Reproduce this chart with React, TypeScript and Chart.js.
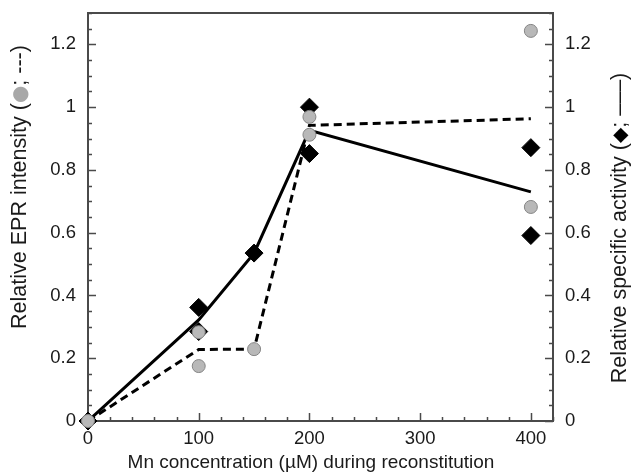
import React, { useEffect, useRef } from "react";
import { Chart, registerables } from "chart.js";

Chart.register(...registerables);

// ---- data ----
const X_TICKS = [0, 100, 200, 300, 400];
const Y_TICKS = [0, 0.2, 0.4, 0.6, 0.8, 1, 1.2];
const X_MIN = 0;
const X_MAX = 420;
const Y_MIN = 0;
const Y_MAX = 1.3;
const X_MINOR_STEP = 20;
const Y_MINOR_STEP = 0.05;

const EPR_X = [0, 100, 100, 150, 200, 200, 400, 400];
const EPR_Y = [0, 0.283, 0.175, 0.229, 0.969, 0.912, 1.243, 0.682];
const ACT_X = [0, 100, 100, 150, 200, 200, 400, 400];
const ACT_Y = [0, 0.362, 0.285, 0.535, 1.0, 0.852, 0.871, 0.591];
const EPR_MEAN_X = [0, 100, 150, 200, 400];
const EPR_MEAN_Y = [0, 0.228, 0.229, 0.942, 0.963];
const ACT_MEAN_X = [0, 100, 150, 200, 400];
const ACT_MEAN_Y = [0, 0.322, 0.535, 0.926, 0.73];

const X_TITLE = "Mn concentration (µM) during reconstitution";
const Y_LEFT_TITLE = ["Relative EPR intensity (", "●", "; ---)"];
const Y_RIGHT_TITLE = ["Relative specific activity (", "◆", "; –––)"];

const FONT_FAMILY = "'Liberation Sans', Arial, sans-serif";
const TEXT_COLOR = "#1a1a1a";
const FRAME_COLOR = "#4a4a4a";
const CIRCLE_FILL = "#b8b8b8";
const CIRCLE_BORDER = "#858585";

const pts = (xs: number[], ys: number[]) => xs.map((x, i) => ({ x, y: ys[i] }));

const framePlugin = {
  id: "frameTicks",
  beforeDatasetsDraw(chart: any) {
    const { ctx, chartArea: a, scales } = chart;
    const x = scales.x;
    const y = scales.y;
    ctx.save();
    ctx.strokeStyle = FRAME_COLOR;
    ctx.lineWidth = 1.5;
    ctx.beginPath();
    for (let v = X_MIN; v <= X_MAX + 1e-9; v += X_MINOR_STEP) {
      const px = Math.round(x.getPixelForValue(v)) + 0.5;
      const major = X_TICKS.some((t) => Math.abs(t - v) < 1e-6);
      const len = major ? 8 : 4;
      ctx.moveTo(px, a.bottom);
      ctx.lineTo(px, a.bottom - len);
    }
    for (let i = 0; Y_MIN + i * Y_MINOR_STEP <= Y_MAX + 1e-9; i++) {
      const v = Y_MIN + i * Y_MINOR_STEP;
      const py = Math.round(y.getPixelForValue(v)) + 0.5;
      const major = Y_TICKS.some((t) => Math.abs(t - v) < 1e-6);
      const len = major ? 8 : 4;
      ctx.moveTo(a.left, py);
      ctx.lineTo(a.left + len, py);
      ctx.moveTo(a.right, py);
      ctx.lineTo(a.right - len, py);
    }
    ctx.stroke();
    ctx.lineWidth = 2;
    ctx.strokeRect(a.left, a.top, a.right - a.left, a.bottom - a.top);
    ctx.restore();
  },
  afterDraw(chart: any) {
    const { ctx } = chart;
    ctx.save();
    ctx.font = `19px ${FONT_FAMILY}`;
    ctx.fillStyle = TEXT_COLOR;
    ctx.textBaseline = "middle";
    ctx.textAlign = "center";
    ctx.fillText(X_TITLE, 311, 463);

    const drawRot = (segs: string[], cx: number, cy: number, symColor: string, symSize: number) => {
      ctx.save();
      ctx.translate(cx, cy);
      ctx.rotate(-Math.PI / 2);
      ctx.textAlign = "left";
      const fonts = segs.map((_, i) =>
        i === 1 ? `${symSize}px 'DejaVu Sans', ${FONT_FAMILY}` : `21.5px ${FONT_FAMILY}`
      );
      const widths = segs.map((s, i) => {
        ctx.font = fonts[i];
        return ctx.measureText(s).width;
      });
      const total = widths.reduce((p, c) => p + c, 0);
      let xx = -total / 2;
      segs.forEach((s, i) => {
        ctx.font = fonts[i];
        ctx.fillStyle = i === 1 ? symColor : TEXT_COLOR;
        ctx.fillText(s, xx, i === 1 ? 1 : 0);
        xx += widths[i];
      });
      ctx.restore();
    };
    drawRot(Y_LEFT_TITLE, 20, 187, "#a8a8a8", 20);
    drawRot(Y_RIGHT_TITLE, 620, 228, "#000000", 20);
    ctx.restore();
  },
};

export default function App() {
  const ref = useRef<HTMLCanvasElement | null>(null);
  useEffect(() => {
    if (!ref.current) return;
    const tickFont = { family: FONT_FAMILY, size: 18.5 };
    const yScale = (position: string, width: number) => ({
      type: "linear",
      position,
      min: Y_MIN,
      max: Y_MAX,
      afterBuildTicks: (s: any) => {
        s.ticks = Y_TICKS.map((value) => ({ value }));
      },
      afterFit: (s: any) => {
        s.width = width;
        s.paddingTop = 0;
        s.paddingBottom = 0;
      },
      grid: { display: false, drawTicks: false },
      border: { display: false },
      ticks: {
        font: tickFont,
        color: TEXT_COLOR,
        padding: 12,
        callback: (v: number) => String(v),
      },
    });
    const chart = new Chart(ref.current, {
      type: "scatter",
      data: {
        datasets: [
          {
            label: "EPR",
            data: pts(EPR_X, EPR_Y),
            yAxisID: "y",
            showLine: false,
            pointStyle: "circle",
            pointRadius: 6.5,
            pointBackgroundColor: CIRCLE_FILL,
            pointBorderColor: CIRCLE_BORDER,
            pointBorderWidth: 1,
            clip: false,
            order: 0,
          },
          {
            label: "Activity",
            data: pts(ACT_X, ACT_Y),
            yAxisID: "y2",
            showLine: false,
            pointStyle: "rectRot",
            pointRadius: 9,
            pointBackgroundColor: "#000",
            pointBorderColor: "#000",
            pointBorderWidth: 1,
            clip: false,
            order: 1,
          },
          {
            label: "EPR mean",
            data: pts(EPR_MEAN_X, EPR_MEAN_Y),
            yAxisID: "y",
            showLine: true,
            borderColor: "#000",
            borderWidth: 3,
            borderDash: [8, 5],
            pointRadius: 0,
            tension: 0,
            order: 2,
          },
          {
            label: "Activity mean",
            data: pts(ACT_MEAN_X, ACT_MEAN_Y),
            yAxisID: "y2",
            showLine: true,
            borderColor: "#000",
            borderWidth: 3,
            pointRadius: 0,
            tension: 0,
            order: 3,
          },
        ],
      },
      options: {
        animation: false,
        responsive: false,
        maintainAspectRatio: false,
        layout: { padding: { top: 13, left: 0, right: 0, bottom: 0 } },
        plugins: {
          legend: { display: false },
          tooltip: { enabled: false },
          title: { display: false },
        },
        scales: {
          x: {
            type: "linear",
            position: "bottom",
            min: X_MIN,
            max: X_MAX,
            afterBuildTicks: (s: any) => {
              s.ticks = X_TICKS.map((value) => ({ value }));
            },
            afterFit: (s: any) => {
              s.height = 52;
              s.paddingLeft = 0;
              s.paddingRight = 0;
            },
            grid: { display: false, drawTicks: false },
            border: { display: false },
            ticks: {
              font: tickFont,
              color: TEXT_COLOR,
              padding: 7,
              maxRotation: 0,
              callback: (v: number) => String(v),
            },
          },
          y: yScale("left", 88),
          y2: yScale("right", 79),
        },
      } as any,
      plugins: [framePlugin],
    } as any);
    return () => chart.destroy();
  }, []);
  return (
    <div style={{ position: "fixed", left: 0, top: 0, width: 632, height: 473, background: "#fff" }}>
      <canvas ref={ref} width={632} height={473} style={{ display: "block", width: 632, height: 473 }} />
    </div>
  );
}
